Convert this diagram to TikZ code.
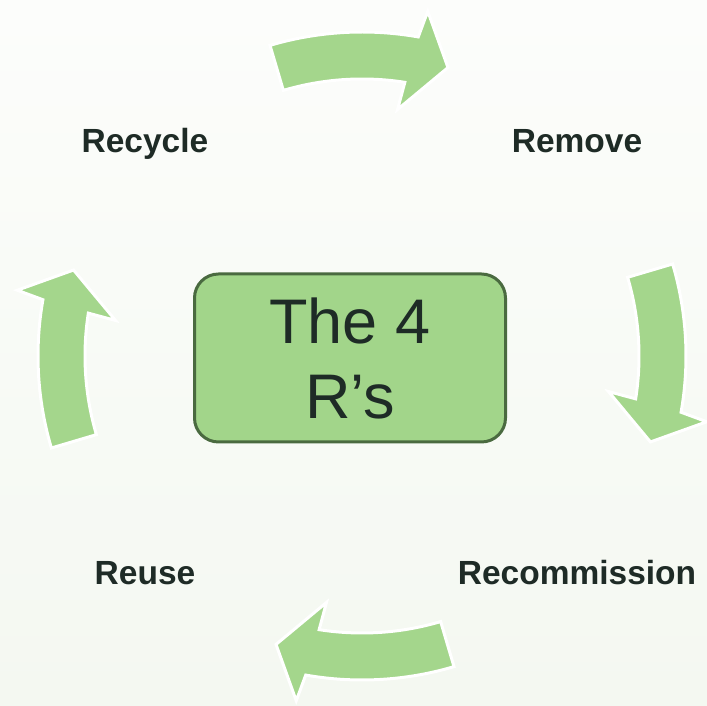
\documentclass[tikz,border=0pt]{standalone}
\usepackage{fontspec}
\setmainfont{Liberation Sans}
\definecolor{bgtop}{HTML}{FCFDFB}
\definecolor{bgbot}{HTML}{F4F8F1}
\definecolor{arrowgreen}{HTML}{A4D68C}
\definecolor{boxfill}{HTML}{A2D58A}
\definecolor{boxline}{HTML}{4A6A40}
\definecolor{txt}{HTML}{1E2B26}
\tikzset{
  x=1pt,y=1pt,
  cyclearrow/.style={fill=arrowgreen, draw=white, line width=3, line join=miter},
  steplabel/.style={anchor=base, text=txt, font=\fontsize{33.5}{40}\selectfont\bfseries, inner sep=0},
  centerbox/.style={draw=boxline, line width=3, fill=boxfill, rounded corners=24,
    minimum width=311, minimum height=168, text=txt, align=center,
    font=\fontsize{63}{75}\selectfont, inner sep=0}
}
\begin{document}
\begin{tikzpicture}
\useasboundingbox (0,0) rectangle (707,706);
\shade[top color=bgtop, bottom color=bgbot] (0,0) rectangle (707,706);
\coordinate (C) at (362,350);
\begin{scope}[shift={(C)}]
\foreach \t in {90,0,-90,180}{
  \path[cyclearrow] (\t+16.5:324) arc[start angle=\t+16.5, end angle=\t-10, radius=324]
    -- (\t-10.8:351) -- (\t-16.6:301) -- (\t-8.2:249) -- (\t-8.9:277)
    arc[start angle=\t-8.9, end angle=\t+16.5, radius=277] -- cycle;
}
\end{scope}
\node[centerbox] (core) at (350,348) {The 4\\R’s};
\node[steplabel] (recycle) at (145,553) {Recycle};
\node[steplabel] (remove) at (577,553) {Remove};
\node[steplabel] (recommission) at (577,121) {Recommission};
\node[steplabel] (reuse) at (145,121) {Reuse};
\end{tikzpicture}
\end{document}
